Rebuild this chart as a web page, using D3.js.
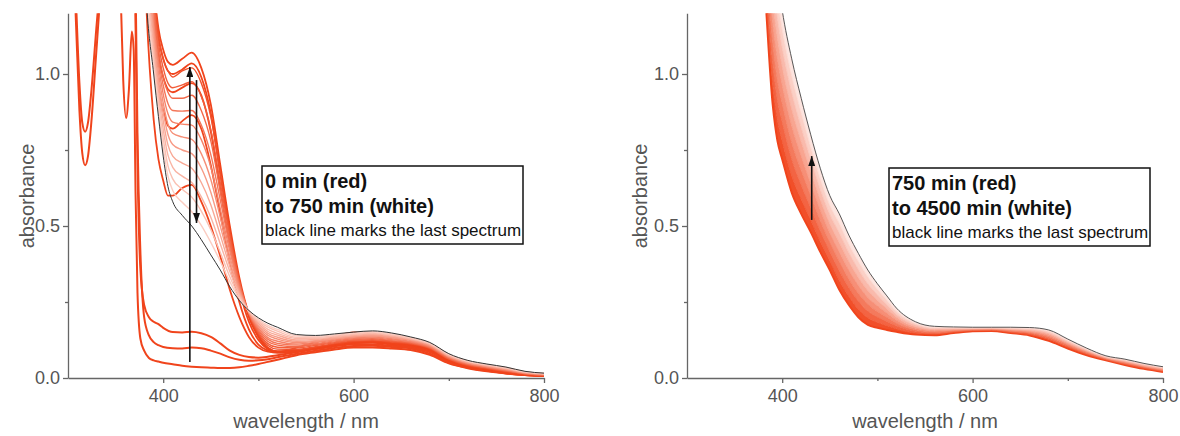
<!DOCTYPE html>
<html>
<head>
<meta charset="utf-8">
<script src="https://cdn.jsdelivr.net/npm/d3@7"></script>
<style>
body{margin:0;background:#fff;}
svg{display:block;font-family:"Liberation Sans",Arial,sans-serif;}
.axis path,.axis line{stroke:#666;stroke-width:1.3;}
.axis text{fill:#555;font-size:18px;font-family:"Liberation Sans",Arial,sans-serif;}
</style>
</head>
<body>
<svg id="chart" width="1180" height="436"></svg>
<script>
// ---------- DATA ----------
const xMajor = [400, 600, 800];
const xMinor = [500, 700];
const yMajor = [0, 0.5, 1.0];
const yMinor = [0.25, 0.75];

// left panel, first spectra (need the UV detail)
const uvWl = [300,304,308,312,315,318,321,325,329,333,340,350,355,358,361,364,367,369,371,373,376,380,385,390,395,400,410,420,430,440,450,460,470,480,490,500,510,520,540,560,580,600,620,640,660,680,700,720,740,760,780,800];
const spec0 = [1.7,1.45,1.2,0.88,0.74,0.70,0.73,0.86,1.04,1.22,1.6,1.6,1.3,0.98,0.855,0.95,1.14,1.08,0.6,0.28,0.13,0.09,0.066,0.058,0.054,0.05,0.045,0.04,0.037,0.035,0.034,0.033,0.033,0.035,0.04,0.046,0.053,0.06,0.075,0.085,0.094,0.1,0.1,0.097,0.092,0.076,0.048,0.032,0.022,0.015,0.01,0.007];
const spec1 = [2.0,1.9,1.7,1.5,1.42,1.4,1.42,1.5,1.6,1.7,1.9,1.9,1.8,1.7,1.65,1.7,1.75,1.6,1.3,0.8,0.42,0.2,0.14,0.118,0.108,0.102,0.098,0.097,0.1,0.098,0.09,0.08,0.068,0.06,0.057,0.058,0.062,0.068,0.08,0.09,0.099,0.105,0.106,0.102,0.097,0.08,0.05,0.034,0.024,0.016,0.01,0.007];
const spec2 = [1.8,1.55,1.27,0.97,0.84,0.81,0.84,0.96,1.12,1.28,1.7,1.8,1.7,1.6,1.55,1.6,1.65,1.5,1.15,0.7,0.36,0.24,0.2,0.185,0.177,0.165,0.151,0.15,0.152,0.147,0.135,0.114,0.09,0.076,0.069,0.067,0.07,0.075,0.085,0.095,0.104,0.11,0.11,0.106,0.1,0.085,0.052,0.036,0.025,0.016,0.01,0.007];

// left panel, later spectra
const visWl = [375,382,390,395,400,405,410,420,430,440,450,460,470,480,490,500,510,520,540,560,580,600,620,640,660,680,700,720,740,760,780,800];
const rising = [
  [2.0,1.25,0.85,0.72,0.65,0.6,0.6,0.625,0.635,0.58,0.5,0.4,0.29,0.2,0.135,0.1,0.087,0.085,0.1,0.118,0.135,0.15,0.146,0.136,0.126,0.092,0.06,0.045,0.035,0.021,0.012,0.008],
  [2.2,1.5,1.1,0.95,0.88,0.83,0.82,0.845,0.865,0.82,0.7,0.54,0.38,0.25,0.16,0.11,0.09,0.083,0.088,0.098,0.108,0.115,0.116,0.11,0.104,0.088,0.055,0.038,0.028,0.018,0.011,0.007],
  [2.4,1.7,1.22,1.06,0.99,0.95,0.94,0.955,0.97,0.93,0.81,0.62,0.44,0.29,0.185,0.125,0.095,0.085,0.088,0.098,0.108,0.116,0.118,0.112,0.107,0.092,0.058,0.039,0.029,0.019,0.011,0.007],
  [2.5,1.75,1.27,1.12,1.05,1.01,1.0,1.015,1.035,0.99,0.87,0.67,0.48,0.315,0.2,0.135,0.098,0.087,0.089,0.099,0.109,0.117,0.119,0.114,0.108,0.093,0.059,0.04,0.03,0.02,0.012,0.008],
  [2.5,1.8,1.3,1.15,1.08,1.04,1.03,1.05,1.07,1.02,0.9,0.7,0.5,0.33,0.21,0.14,0.1,0.088,0.09,0.1,0.11,0.118,0.12,0.115,0.11,0.095,0.06,0.04,0.03,0.02,0.012,0.008]
];
const falling = [
  [2.4,1.76,1.28,1.13,1.05,1.01,0.99,1.01,1.02,0.97,0.86,0.67,0.48,0.32,0.21,0.145,0.107,0.095,0.094,0.103,0.113,0.121,0.123,0.118,0.112,0.097,0.062,0.041,0.031,0.021,0.013,0.009],
  [2.38,1.71,1.25,1.1,1.02,0.97,0.955,0.964,0.975,0.926,0.817,0.642,0.467,0.317,0.212,0.15,0.113,0.101,0.099,0.107,0.116,0.124,0.126,0.121,0.114,0.099,0.063,0.043,0.033,0.023,0.014,0.009],
  [2.33,1.67,1.23,1.08,0.99,0.94,0.92,0.92,0.93,0.88,0.78,0.614,0.45,0.311,0.213,0.155,0.12,0.108,0.103,0.11,0.119,0.126,0.129,0.123,0.116,0.1,0.065,0.045,0.034,0.024,0.015,0.01],
  [2.27,1.62,1.2,1.05,0.963,0.903,0.88,0.878,0.88,0.832,0.735,0.585,0.433,0.305,0.214,0.159,0.127,0.114,0.108,0.113,0.122,0.129,0.132,0.126,0.118,0.102,0.067,0.046,0.035,0.025,0.015,0.011],
  [2.21,1.57,1.17,1.03,0.934,0.869,0.842,0.835,0.832,0.784,0.694,0.556,0.417,0.299,0.215,0.164,0.133,0.121,0.112,0.117,0.125,0.132,0.135,0.129,0.12,0.104,0.068,0.048,0.037,0.027,0.016,0.011],
  [2.15,1.53,1.15,1.005,0.905,0.835,0.805,0.793,0.785,0.738,0.653,0.528,0.4,0.293,0.216,0.169,0.14,0.128,0.117,0.12,0.128,0.135,0.138,0.132,0.123,0.106,0.07,0.049,0.038,0.028,0.017,0.012],
  [2.09,1.49,1.125,0.981,0.876,0.801,0.768,0.75,0.738,0.691,0.611,0.499,0.383,0.286,0.217,0.174,0.147,0.134,0.121,0.123,0.13,0.137,0.14,0.134,0.125,0.108,0.072,0.05,0.039,0.029,0.018,0.013],
  [2.03,1.44,1.1,0.957,0.847,0.767,0.73,0.707,0.69,0.643,0.57,0.47,0.367,0.28,0.218,0.179,0.153,0.141,0.125,0.127,0.133,0.14,0.143,0.137,0.127,0.11,0.073,0.052,0.041,0.031,0.019,0.013],
  [1.98,1.4,1.075,0.933,0.818,0.733,0.693,0.664,0.643,0.596,0.529,0.441,0.35,0.274,0.219,0.184,0.16,0.147,0.13,0.13,0.136,0.143,0.146,0.14,0.129,0.112,0.075,0.054,0.042,0.032,0.02,0.014],
  [1.92,1.35,1.05,0.908,0.788,0.698,0.655,0.621,0.595,0.549,0.488,0.413,0.333,0.268,0.22,0.188,0.167,0.154,0.134,0.133,0.139,0.145,0.149,0.142,0.131,0.113,0.077,0.055,0.043,0.033,0.02,0.015],
  [1.86,1.3,1.025,0.884,0.759,0.664,0.617,0.578,0.547,0.502,0.446,0.384,0.317,0.261,0.221,0.193,0.173,0.16,0.139,0.137,0.142,0.148,0.152,0.145,0.133,0.115,0.078,0.056,0.044,0.035,0.021,0.015]
];
const leftLast = [1.8,1.26,1.0,0.86,0.73,0.63,0.58,0.535,0.5,0.455,0.405,0.355,0.3,0.255,0.222,0.198,0.18,0.167,0.143,0.14,0.145,0.151,0.155,0.148,0.135,0.117,0.08,0.058,0.046,0.036,0.022,0.016];

// right panel (750 -> 4500 min)
const rightWl = [370,380,390,395,400,410,420,430,440,450,460,470,480,490,500,510,520,540,560,580,600,620,640,660,680,700,720,740,760,780,800];
const rightSpectra = [
  [1.6,1.35,0.9,0.78,0.72,0.61,0.54,0.48,0.415,0.355,0.29,0.24,0.2,0.175,0.165,0.158,0.152,0.143,0.141,0.148,0.154,0.155,0.148,0.14,0.122,0.097,0.075,0.058,0.043,0.03,0.02],
  [1.675,1.41,0.97,0.85,0.78,0.665,0.588,0.52,0.449,0.386,0.321,0.269,0.226,0.198,0.183,0.172,0.162,0.148,0.145,0.151,0.156,0.157,0.15,0.143,0.127,0.101,0.078,0.06,0.045,0.032,0.022],
  [1.75,1.46,1.04,0.915,0.843,0.72,0.635,0.56,0.484,0.416,0.353,0.298,0.253,0.22,0.201,0.186,0.172,0.154,0.148,0.153,0.157,0.158,0.153,0.147,0.131,0.105,0.081,0.062,0.048,0.035,0.024],
  [1.825,1.52,1.11,0.98,0.904,0.775,0.683,0.6,0.518,0.447,0.384,0.326,0.279,0.243,0.219,0.2,0.181,0.159,0.152,0.156,0.159,0.16,0.155,0.15,0.136,0.109,0.084,0.064,0.05,0.037,0.026],
  [1.9,1.575,1.175,1.05,0.965,0.83,0.73,0.64,0.553,0.478,0.415,0.355,0.305,0.265,0.238,0.214,0.191,0.164,0.156,0.158,0.161,0.161,0.158,0.153,0.14,0.113,0.087,0.066,0.053,0.039,0.029],
  [1.975,1.63,1.245,1.12,1.026,0.885,0.778,0.68,0.587,0.508,0.446,0.384,0.331,0.288,0.256,0.228,0.201,0.169,0.159,0.161,0.162,0.163,0.16,0.156,0.145,0.116,0.089,0.067,0.055,0.041,0.031],
  [2.05,1.69,1.31,1.185,1.088,0.94,0.825,0.72,0.621,0.539,0.478,0.413,0.358,0.31,0.274,0.242,0.21,0.175,0.163,0.163,0.164,0.164,0.162,0.16,0.149,0.12,0.092,0.069,0.057,0.044,0.033],
  [2.125,1.745,1.38,1.25,1.149,0.995,0.873,0.76,0.656,0.569,0.509,0.441,0.384,0.333,0.292,0.256,0.22,0.18,0.166,0.166,0.165,0.166,0.165,0.163,0.154,0.124,0.095,0.071,0.06,0.046,0.035]
];
const rightLast = [2.2,1.8,1.45,1.32,1.21,1.05,0.92,0.8,0.69,0.6,0.54,0.47,0.41,0.355,0.31,0.27,0.23,0.185,0.17,0.168,0.167,0.167,0.167,0.166,0.158,0.128,0.098,0.073,0.062,0.048,0.037];

const leftLegend = ["0 min (red)", "to 750 min (white)", "black line marks the last spectrum"];
const rightLegend = ["750 min (red)", "to 4500 min (white)", "black line marks the last spectrum"];
// arrows: [wavelength, from, to]
const leftArrows = [[428, 0.053, 1.023], [435, 0.98, 0.51]];
const rightArrows = [[431, 0.52, 0.73]];

// ---------- CHART ----------
const red = "#f0441c";
const svg = d3.select("#chart");
const defs = svg.append("defs");
defs.append("marker")
    .attr("id", "head")
    .attr("viewBox", "0 0 10 10")
    .attr("refX", 10).attr("refY", 5)
    .attr("markerUnits", "userSpaceOnUse")
    .attr("markerWidth", 10).attr("markerHeight", 7)
    .attr("preserveAspectRatio", "none")
    .attr("orient", "auto")
    .append("path").attr("d", "M0,0L10,5L0,10z").attr("fill", "#111");

const yScale = d3.scaleLinear().domain([0, 1.2]).range([378, 13.2]);

function makePanel(left, right, id, titleX){
    const x = d3.scaleLinear().domain([300, 800]).range([left, right]);
    const g = svg.append("g");
    defs.append("clipPath").attr("id", id).append("rect")
        .attr("x", left).attr("y", yScale(1.2))
        .attr("width", right - left).attr("height", yScale(0) - yScale(1.2));
    const plot = g.append("g").attr("clip-path", `url(#${id})`);

    g.append("g").attr("class", "axis")
        .attr("transform", `translate(0,${yScale(0)})`)
        .call(d3.axisBottom(x).tickValues(xMajor).tickSize(5).tickSizeOuter(0).tickPadding(6).tickFormat(d3.format("d")));
    g.append("g").attr("class", "axis")
        .attr("transform", `translate(0,${yScale(0)})`)
        .call(d3.axisBottom(x).tickValues(xMinor).tickSize(3).tickFormat(""))
        .call(a => a.select(".domain").remove());
    g.append("g").attr("class", "axis")
        .attr("transform", `translate(${left},0)`)
        .call(d3.axisLeft(yScale).tickValues(yMajor).tickSize(5).tickSizeOuter(0).tickPadding(3).tickFormat(d3.format(".1f")));
    g.append("g").attr("class", "axis")
        .attr("transform", `translate(${left},0)`)
        .call(d3.axisLeft(yScale).tickValues(yMinor).tickSize(3).tickFormat(""))
        .call(a => a.select(".domain").remove());

    g.append("text")
        .attr("x", (left + right) / 2).attr("y", 428)
        .attr("text-anchor", "middle")
        .attr("fill", "#555").attr("font-size", 20)
        .text("wavelength / nm");
    g.append("text")
        .attr("transform", `translate(${titleX},196) rotate(-90)`)
        .attr("text-anchor", "middle").attr("dy", "0.35em")
        .attr("fill", "#555").attr("font-size", 20)
        .text("absorbance");
    return {x, g, plot};
}

function lineFor(x, wl){
    return d3.line()
        .x((d, i) => x(wl[i]))
        .y(d => yScale(d))
        .curve(d3.curveMonotoneX);
}

function legend(g, bx, by, lines){
    g.append("rect").attr("x", bx).attr("y", by).attr("width", 261).attr("height", 78)
        .attr("fill", "#fff").attr("stroke", "#111").attr("stroke-width", 1.5);
    lines.forEach((t, i) => {
        g.append("text")
            .attr("x", bx + 3).attr("y", by + [22, 47, 70][i])
            .attr("font-size", i < 2 ? 20 : 17)
            .attr("font-weight", i < 2 ? "bold" : "normal")
            .attr("fill", "#111")
            .text(t);
    });
}

function arrows(g, x, list){
    list.forEach(a => {
        g.append("line")
            .attr("x1", x(a[0])).attr("x2", x(a[0]))
            .attr("y1", yScale(a[1])).attr("y2", yScale(a[2]))
            .attr("stroke", "#111").attr("stroke-width", 1.6)
            .attr("marker-end", "url(#head)");
    });
}

// LEFT PANEL
const L = makePanel(68, 544, "clipL", 27);
const uvLine = lineFor(L.x, uvWl);
const visLine = lineFor(L.x, visWl);
const fade = d3.interpolateRgb(red, "#ffffff");

[spec0, spec1, spec2].forEach(s => {
    L.plot.append("path").attr("d", uvLine(s))
        .attr("fill", "none").attr("stroke", red).attr("stroke-width", 2);
});
rising.forEach(s => {
    L.plot.append("path").attr("d", visLine(s))
        .attr("fill", "none").attr("stroke", red).attr("stroke-width", 1.8);
});
falling.forEach((s, i) => {
    L.plot.append("path").attr("d", visLine(s))
        .attr("fill", "none").attr("stroke", fade((i + 1) / 12 * 0.8)).attr("stroke-width", 1.4);
});
L.plot.append("path").attr("d", visLine(leftLast))
    .attr("fill", "none").attr("stroke", "#333").attr("stroke-width", 1);
arrows(L.g, L.x, leftArrows);
legend(L.g, 262, 166, leftLegend);

// RIGHT PANEL
const R = makePanel(687, 1163, "clipR", 640);
const rLine = lineFor(R.x, rightWl);
const allRight = rightSpectra.concat([rightLast]);
const n = rightSpectra.length;
for (let i = 0; i < n; i++){
    const lower = allRight[i], upper = allRight[i + 1];
    const area = d3.area()
        .x((d, j) => R.x(rightWl[j]))
        .y0((d, j) => yScale(lower[j]))
        .y1((d, j) => yScale(upper[j]))
        .curve(d3.curveMonotoneX);
    R.plot.append("path").attr("d", area(lower))
        .attr("fill", fade((i + 0.5) / n * 0.92)).attr("stroke", "none");
}
rightSpectra.forEach((s, i) => {
    R.plot.append("path").attr("d", rLine(s))
        .attr("fill", "none").attr("stroke", fade(i / n * 0.92)).attr("stroke-width", i == 0 ? 2 : 1);
});
R.plot.append("path").attr("d", rLine(rightLast))
    .attr("fill", "none").attr("stroke", "#444").attr("stroke-width", 0.9);
arrows(R.g, R.x, rightArrows);
legend(R.g, 889, 168, rightLegend);
</script>
</body>
</html>
